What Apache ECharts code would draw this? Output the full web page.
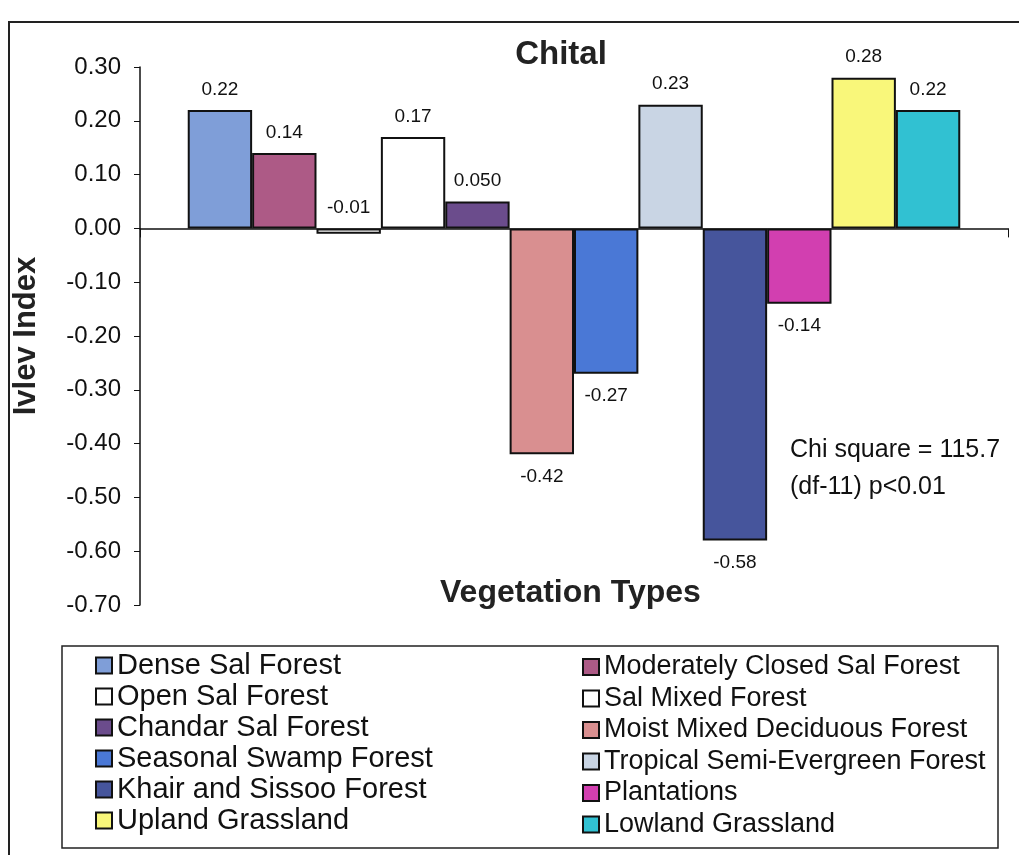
<!DOCTYPE html>
<html>
<head>
<meta charset="utf-8">
<script src="https://cdn.jsdelivr.net/npm/echarts@6/dist/echarts.min.js"></script>
<style>
  html, body { margin: 0; padding: 0; background: #fff; }
  #chart { width: 1019px; height: 855px; }
</style>
</head>
<body>
<div id="chart"></div>
<script>
// 식생 유형별 Ivlev 지수 (Chital)
var types = ['Dense Sal Forest', 'Moderately Closed Sal Forest', 'Open Sal Forest', 'Sal Mixed Forest',
  'Chandar Sal Forest', 'Moist Mixed Deciduous Forest', 'Seasonal Swamp Forest', 'Tropical Semi-Evergreen Forest',
  'Khair and Sissoo Forest', 'Plantations', 'Upland Grassland', 'Lowland Grassland'];
var ivlev = [0.22, 0.14, -0.01, 0.17, 0.05, -0.42, -0.27, 0.23, -0.58, -0.14, 0.28, 0.22];
var valueLabels = ['0.22', '0.14', '-0.01', '0.17', '0.050', '-0.42', '-0.27', '0.23', '-0.58', '-0.14', '0.28', '0.22'];
var colors = ['#7f9ed8', '#ad5a86', '#ffffff', '#ffffff', '#6b4c8c', '#d98f90',
  '#4a78d6', '#c9d5e4', '#46559c', '#d23fb0', '#f9f77a', '#31c1d2'];

var chart = echarts.init(document.getElementById('chart'));
var font = 'Liberation Sans, Arial, sans-serif';

var series = types.map(function (name, i) {
  // 작은 음수(-0.01)는 라벨이 막대 위쪽에 있음
  var pos = ivlev[i] > -0.05 ? 'top' : 'bottom';
  return {
    name: name,
    type: 'bar',
    data: [ivlev[i]],
    barGap: '0%',
    barCategoryGap: '11%',
    itemStyle: {
      color: colors[i],
      borderColor: '#111',
      borderWidth: 2
    },
    label: {
      show: true,
      position: pos,
      distance: pos === 'top' ? 11 : 13,
      color: '#111',
      fontFamily: font,
      fontSize: 19,
      formatter: valueLabels[i]
    }
  };
});

option = {
  animation: false,
  backgroundColor: '#fff',
  title: {
    text: 'Chital',
    left: 556,
    top: 33,
    textAlign: 'center',
    textStyle: { fontFamily: font, fontSize: 33, fontWeight: 'bold', color: '#222' }
  },
  grid: {
    left: 140,
    right: 11,
    top: 67,
    bottom: 250
  },
  legend: [
    {
      data: types.filter(function (t, i) { return i % 2 === 0; }),
      orient: 'vertical',
      left: 90,
      top: 646,
      icon: 'rect',
      itemWidth: 16,
      itemHeight: 16,
      itemGap: 2,
      textStyle: { fontFamily: font, fontSize: 29, color: '#111', lineHeight: 28 }
    },
    {
      data: types.filter(function (t, i) { return i % 2 === 1; }),
      orient: 'vertical',
      left: 577,
      top: 648,
      icon: 'rect',
      itemWidth: 16,
      itemHeight: 16,
      itemGap: 3.5,
      textStyle: { fontFamily: font, fontSize: 27, color: '#111', lineHeight: 28 }
    }
  ],
  xAxis: {
    type: 'category',
    data: [''],
    axisLine: { onZero: true, lineStyle: { color: '#111', width: 1.5 } },
    axisTick: { show: true, length: 9, lineStyle: { color: '#111' } },
    axisLabel: { show: false }
  },
  yAxis: {
    type: 'value',
    min: -0.7,
    max: 0.3,
    interval: 0.1,
    name: 'Ivlev Index',
    nameLocation: 'middle',
    nameGap: 98,
    nameTextStyle: { fontFamily: font, fontSize: 31, fontWeight: 'bold', color: '#222' },
    axisLine: { show: true, lineStyle: { color: '#111', width: 1.5 } },
    axisTick: { show: true, length: 6, lineStyle: { color: '#111' } },
    splitLine: { show: false },
    axisLabel: {
      fontFamily: font,
      fontSize: 24,
      color: '#111',
      margin: 19,
      formatter: function (v) { return v.toFixed(2); }
    }
  },
  graphic: [
    {
      type: 'rect',
      shape: { x: 9, y: 22, width: 1030, height: 850 },
      style: { fill: 'none', stroke: '#222', lineWidth: 2 },
      silent: true
    },
    {
      type: 'rect',
      shape: { x: 62, y: 646, width: 936, height: 202 },
      style: { fill: 'none', stroke: '#222', lineWidth: 1.5 },
      silent: true
    },
    {
      type: 'text',
      left: 440,
      top: 577,
      style: {
        text: 'Vegetation Types',
        fontFamily: font,
        fontSize: 32,
        fontWeight: 'bold',
        fill: '#222'
      }
    },
    {
      type: 'text',
      left: 790,
      top: 432,
      style: {
        text: 'Chi square = 115.7\n(df-11) p<0.01',
        fontFamily: font,
        fontSize: 25,
        lineHeight: 37,
        fill: '#111'
      }
    }
  ],
  series: series
};

chart.setOption(option);
</script>
</body>
</html>
